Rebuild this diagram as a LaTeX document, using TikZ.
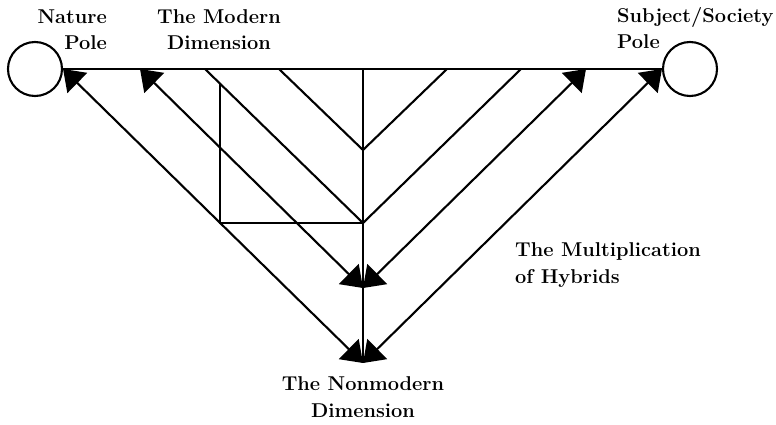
\documentclass[tikz,border=0pt]{standalone}
\usepackage{fontspec}
\usetikzlibrary{arrows.meta}
\tikzset{pole/.style={draw,circle,line width=2.1pt,minimum size=54pt,inner sep=0pt},
 wire/.style={line width=2.1pt},
 arr/.style={wire,{Triangle[length=20pt,width=28pt]}-{Triangle[length=20pt,width=28pt]}},
 lbl/.style={font=\fontsize{20}{26.5}\selectfont\bfseries,inner sep=0pt}}
\begin{document}
\begin{tikzpicture}[x=1pt,y=-1pt]
\useasboundingbox (0,0) rectangle (776,425);
\node[pole] (nat) at (35,69) {};
\node[pole] (soc) at (690,69) {};
\coordinate (top) at (363,69);
\coordinate (va) at (363,150);
\coordinate (vb) at (363,223);
\coordinate (mid) at (363,288);
\coordinate (bot) at (363,363);
\coordinate (ta) at (140,69);\coordinate (tb) at (586,69);
\foreach \n/\x in {l1/205,l2/279,r2/447,r1/521}{\coordinate (\n) at (\x,69);}
\coordinate (sqt) at (220,84);\coordinate (sqb) at (220,223);
% modern dimension
\draw[wire] (nat.east)--(soc.west);
\draw[wire] (top)--(bot);
\draw[wire] (l2)--(va)--(r2);
\draw[wire] (l1)--(vb)--(r1);
\draw[wire] (sqt)--(sqb)--(vb);
% hybrids
\draw[arr] (nat.east)--(bot);
\draw[arr] (soc.west)--(bot);
\draw[arr] (ta)--(mid);
\draw[arr] (tb)--(mid);
\node[lbl,align=right,anchor=base east] (natl) at (107,50) {Nature\\Pole};
\node[lbl,align=center,anchor=base] (modl) at (219,50) {The Modern\\Dimension};
\node[lbl,align=left,anchor=base west] (socl) at (617,49) {Subject/Society\\Pole};
\node[lbl,align=left,anchor=base west] (hybl) at (515,283) {The Multiplication\\of Hybrids};
\node[lbl,align=center,anchor=base] (nonl) at (363,417) {The Nonmodern\\Dimension};
\end{tikzpicture}
\end{document}
